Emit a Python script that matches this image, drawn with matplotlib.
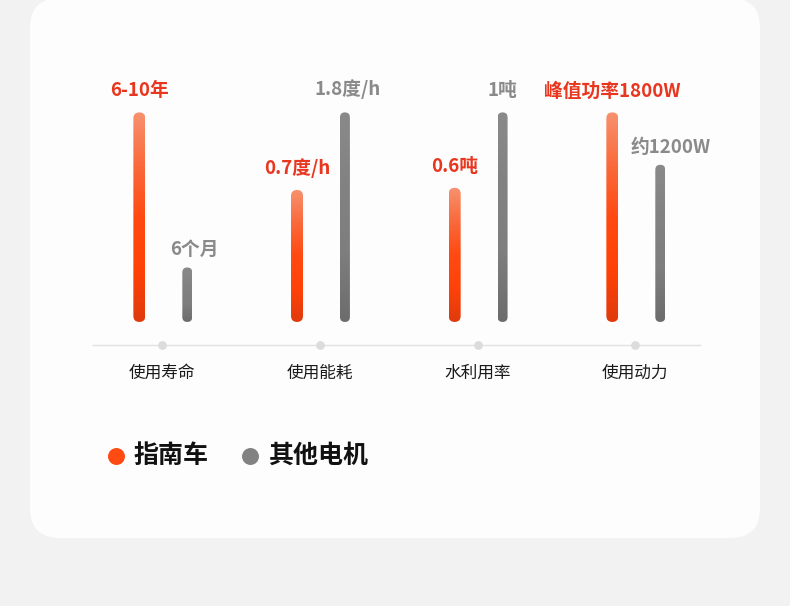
import numpy as np
import matplotlib.pyplot as plt
from matplotlib.patches import FancyBboxPatch
from matplotlib.colors import LinearSegmentedColormap

plt.rcParams['font.family'] = ['Noto Sans CJK SC', 'DejaVu Sans']

# ── data ──────────────────────────────────────────────
categories = ["使用寿命", "使用能耗", "水利用率", "使用动力"]
ours_vals = [100, 63, 64, 100]
other_vals = [26, 100, 100, 75]
ours_labels = ["6-10年", "0.7度/h", "0.6吨", "峰值功率1800W"]
other_labels = ["6个月", "1.8度/h", "1吨", "约1200W"]
legend_names = ["指南车", "其他电机"]

RED_TXT = "#e8361f"
GRAY_TXT = "#8a8a8a"
orange_cmap = LinearSegmentedColormap.from_list(
    "og", ["#f7926f", "#fa6a3c", "#ff4a12", "#ff4208", "#e03a0c"])
gray_cmap = LinearSegmentedColormap.from_list(
    "gg", ["#8a8a8a", "#828282", "#7e7e7e", "#6c6c6c"])

W, H = 790, 606
fig = plt.figure(figsize=(W / 100, H / 100), dpi=100)
fig.patch.set_facecolor("#f2f2f2")

# ── background card ──────────────────────────────────
bg = fig.add_axes([0, 0, 1, 1])
bg.set_xlim(0, W)
bg.set_ylim(H, 0)
bg.axis("off")
bg.add_patch(FancyBboxPatch((30, -2), 730, 540, boxstyle="round,pad=0,rounding_size=30",
                            fc="#fdfdfd", ec="none"))

# ── chart axes ───────────────────────────────────────
left, right, top, base = 93, 700, 60, 345
ax = fig.add_axes([left / W, (H - base) / H, (right - left) / W, (base - top) / H])
ax.set_facecolor("none")
ax.set_xlim(-0.44, 3.41)
ax.set_ylim(-11, 125)
for s in ["top", "right", "left"]:
    ax.spines[s].set_visible(False)
ax.spines["bottom"].set_color("#e2e2e2")
ax.spines["bottom"].set_linewidth(1)
ax.set_yticks([])
ax.set_xticks(range(len(categories)))
ax.set_xticklabels(categories, fontsize=12, color="#1a1a1a")
ax.tick_params(axis="x", length=0, pad=14)
ax.scatter(range(len(categories)), [-11] * len(categories), s=28, color="#dcdcdc",
           zorder=3, clip_on=False)

# aspect for round caps: y-units per x-unit in pixels
x_per_px = (3.41 + 0.44) / (right - left)
y_per_px = (125 + 11) / (base - top)
aspect = y_per_px / x_per_px


def draw_bar(x, h, w, cmap):
    patch = FancyBboxPatch((x - w / 2, 0), w, h,
                           boxstyle=f"round,pad=0,rounding_size={w / 2}",
                           mutation_aspect=aspect, fc="none", ec="none")
    ax.add_patch(patch)
    grad = np.linspace(0, 1, 256).reshape(-1, 1)
    im = ax.imshow(grad, cmap=cmap, aspect="auto", origin="upper",
                   extent=(x - w / 2, x + w / 2, 0, h), zorder=2)
    im.set_clip_path(patch)


# small horizontal nudges of the grey labels (pixels)
other_dx = [7, 3, 0, 10]
other_dy = [9, 13, 12, 8]

xs = np.arange(len(categories))
for i in xs:
    xo, xg = i - 0.146, i + 0.158
    draw_bar(xo, ours_vals[i], 0.076, orange_cmap)
    draw_bar(xg, other_vals[i], 0.063, gray_cmap)
    ax.annotate(ours_labels[i], (xo, ours_vals[i]), xytext=(0, 12),
                textcoords="offset pixels", ha="center", va="bottom",
                fontsize=13.5, fontweight="bold", color=RED_TXT)
    ax.annotate(other_labels[i], (xg, other_vals[i]), xytext=(other_dx[i], other_dy[i]),
                textcoords="offset pixels", ha="center", va="bottom",
                fontsize=13.5, fontweight="bold", color=GRAY_TXT)
ax.set_xlim(-0.44, 3.41)
ax.set_ylim(-11, 125)

# ── legend ───────────────────────────────────────────
bg.scatter([116], [456], s=125, color="#ff4a12", zorder=3)
bg.text(134, 456, legend_names[0], fontsize=18, fontweight="bold", va="center", ha="left", color="#111111")
bg.scatter([250], [456], s=125, color="#828282", zorder=3)
bg.text(268, 456, legend_names[1], fontsize=18, fontweight="bold", va="center", ha="left", color="#111111")

fig.savefig("out.png", dpi=100, facecolor=fig.get_facecolor())
